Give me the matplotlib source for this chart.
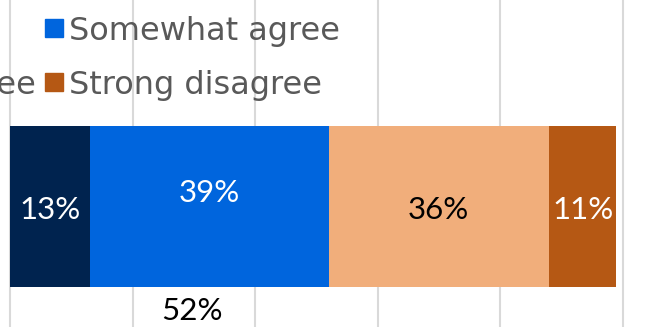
import matplotlib.pyplot as plt
from matplotlib.patches import Rectangle

# Survey responses (percent)
series = ['Strongly agree', 'Somewhat agree', 'Somewhat disagree', 'Strong disagree']
values = [13, 39, 36, 11]
colors = ['#00234F', '#0065DD', '#F1AE7B', '#B55814']
label_colors = ['white', 'white', 'black', 'white']
agree_total = 52  # strongly + somewhat agree

grid_ticks = [0, 20, 40, 60, 80, 100]

plt.rcParams['font.family'] = ['Lato', 'DejaVu Sans']
fig = plt.figure(figsize=(6.54, 3.27), dpi=100)
ax = fig.add_axes([0, 0, 1, 1])

# gridlines behind the bar
for g in grid_ticks:
    ax.axvline(g, color='#D9D9D9', linewidth=1.5, zorder=0)

# stacked bar
left = 0
for i, (v, c) in enumerate(zip(values, colors)):
    ax.barh(0, v, left=left, height=0.6, color=c, edgecolor='none', zorder=2)
    dy = 0.05 if i == 1 else -0.013
    ax.text(left + v / 2, dy, f'{v}%', ha='center', va='center',
            color=label_colors[i], fontsize=22.5, zorder=3)
    left += v

# total for "agree" under the bar
ax.text(29.7, -0.39, f'{agree_total}%', ha='center', va='center',
        color='black', fontsize=22.5)

# legend (partially cropped), placed by hand
leg_font = dict(family='DejaVu Sans', fontsize=23, color='#595959')
leg_entries = [
    (series[1], colors[1], 28),
    (series[3], colors[3], 82),
]
for text, c, y in leg_entries:
    ax.add_patch(Rectangle((45, 327 - y - 9), 18, 18, color=c,
                           transform=None, zorder=4))
    fig.text(69 / 654, 1 - y / 327, text, ha='left', va='center_baseline',
             **leg_font)
# tail of the cropped "Somewhat disagree" entry
fig.text(36 / 654, 1 - 82 / 327, series[2], ha='right', va='center_baseline',
         **leg_font)

ax.set_xlim(-10 / 6.125, 644 / 6.125)
ax.set_ylim(-0.449, 0.770)
ax.axis('off')

fig.savefig('out.png', dpi=100)
